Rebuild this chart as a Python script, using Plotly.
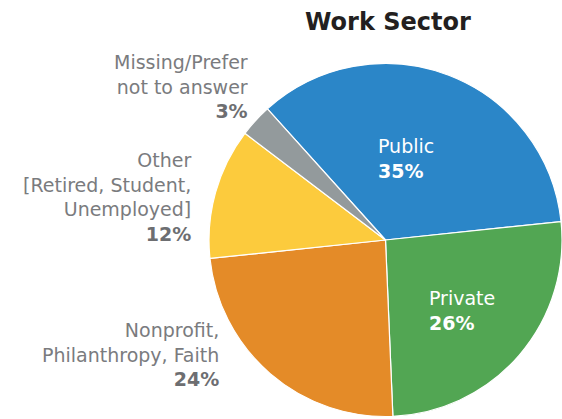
import plotly.graph_objects as go

# Work sector breakdown (percent of respondents)
sectors = ["Public", "Private", "Nonprofit, Philanthropy, Faith",
           "Other [Retired, Student, Unemployed]", "Missing/Prefer not to answer"]
shares = [35, 26, 24, 12, 3]
label_lines = [["Public"], ["Private"], ["Nonprofit,", "Philanthropy, Faith"],
               ["Other", "[Retired, Student,", "Unemployed]"],
               ["Missing/Prefer", "not to answer"]]
colors = ["#2B86C8", "#52A653", "#E48B28", "#FCCB3D", "#939A9C"]

W, H = 562, 419
FONT = "DejaVu Sans"
GRAY = "#7A7B7E"

fig = go.Figure(go.Pie(
    labels=sectors,
    values=shares,
    sort=False,
    direction="clockwise",
    rotation=-42,
    marker=dict(colors=colors, line=dict(color="white", width=1.2)),
    textinfo="none",
    hoverinfo="skip",
    domain=dict(x=[209 / W, 1.0], y=[2 / H, 356 / H]),
    showlegend=False,
))

# label placement (pixel anchor, alignment, text colour)
placement = [
    (376, 158, "left", "white"),
    (427, 310, "left", "white"),
    (221, 354, "right", GRAY),
    (193, 197, "right", GRAY),
    (250, 86, "right", GRAY),
]

annotations = []
for lines, val, (px, py, side, col) in zip(label_lines, shares, placement):
    pct_color = "white" if col == "white" else "#6D6E71"
    text = "<br>".join(lines) + f"<br><b><span style='color:{pct_color}'>{val}%</span></b>"
    annotations.append(dict(
        x=px / W, y=1 - py / H, xref="paper", yref="paper",
        xanchor=side, yanchor="middle", align=side,
        text=text, showarrow=False,
        font=dict(family=FONT, size=19, color=col),
    ))

annotations.append(dict(
    x=388 / W, y=1 - 22 / H, xref="paper", yref="paper",
    xanchor="center", yanchor="middle",
    text="<b>Work Sector</b>", showarrow=False,
    font=dict(family=FONT, size=24, color="#231F20"),
))

fig.update_layout(
    width=W, height=H,
    margin=dict(l=0, r=0, t=0, b=0),
    paper_bgcolor="white", plot_bgcolor="white",
    annotations=annotations,
)

fig.write_html("out.html")
